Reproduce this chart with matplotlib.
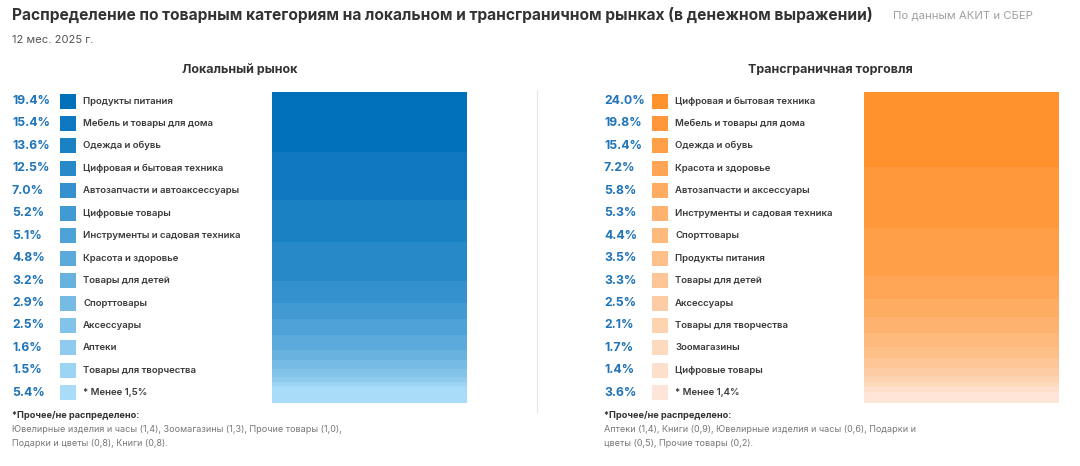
import numpy as np
import matplotlib
matplotlib.use("Agg")
import matplotlib.pyplot as plt
from matplotlib.colors import LinearSegmentedColormap

plt.rcParams["font.family"] = ["Inter", "DejaVu Sans"]

# ── Data ──────────────────────────────────────────────────────────────────────
local_cats = ["Продукты питания", "Мебель и товары для дома", "Одежда и обувь",
              "Цифровая и бытовая техника", "Автозапчасти и автоаксессуары",
              "Цифровые товары", "Инструменты и садовая техника",
              "Красота и здоровье", "Товары для детей", "Спорттовары",
              "Аксессуары", "Аптеки", "Товары для творчества", "* Менее 1,5%"]
local_vals = [19.4, 15.4, 13.6, 12.5, 7.0, 5.2, 5.1, 4.8, 3.2, 2.9, 2.5, 1.6, 1.5, 5.4]

cross_cats = ["Цифровая и бытовая техника", "Мебель и товары для дома",
              "Одежда и обувь", "Красота и здоровье", "Автозапчасти и аксессуары",
              "Инструменты и садовая техника", "Спорттовары", "Продукты питания",
              "Товары для детей", "Аксессуары", "Товары для творчества",
              "Зоомагазины", "Цифровые товары", "* Менее 1,4%"]
cross_vals = [24.0, 19.8, 15.4, 7.2, 5.8, 5.3, 4.4, 3.5, 3.3, 2.5, 2.1, 1.7, 1.4, 3.6]

title = "Распределение по товарным категориям на локальном и трансграничном рынках (в денежном выражении)"
source = "По данным АКИТ и СБЕР"
subtitle = "12 мес. 2025 г."
panel_titles = ["Локальный рынок", "Трансграничная торговля"]
note_head = "*Прочее/не распределено:"
local_note = ["Ювелирные изделия и часы (1,4), Зоомагазины (1,3), Прочие товары (1,0),",
              "Подарки и цветы (0,8), Книги (0,8)."]
cross_note = ["Аптеки (1,4), Книги (0,9), Ювелирные изделия и часы (0,6), Подарки и",
              "цветы (0,5), Прочие товары (0,2)."]

W, H = 1080, 466
PCT_COLOR = "#1f74b9"
TEXT_COLOR = "#3a3a3a"

blue_cmap = LinearSegmentedColormap.from_list("b", ["#0070ba", "#a9dcf8"])
orange_cmap = LinearSegmentedColormap.from_list("o", ["#ff922d", "#fde6d8"])


def fx(x):
    return x / W


def fy(y):
    return 1 - y / H


fig = plt.figure(figsize=(W / 100, H / 100), dpi=100)
fig.patch.set_facecolor("white")

# Header
fig.text(fx(12), fy(15), title, fontsize=11.2, fontweight="bold", color="#333333", va="center")
fig.text(fx(893), fy(15), source, fontsize=8.2, color="#a0a0a0", va="center")
fig.text(fx(12), fy(40), subtitle, fontsize=8.1, color="#555555", va="center")

# Divider
fig.add_artist(plt.Line2D([fx(537), fx(537)], [fy(90), fy(412)], color="#e6e6e6", lw=0.8))


def draw_panel(cats, vals, cmap, x0, bar_x, title_x, ptitle, note_lines):
    n = len(vals)
    colors = [cmap(i / (n - 1)) for i in range(n)]

    fig.text(fx(title_x), fy(70), ptitle, fontsize=9, fontweight="bold",
             color="#333333", ha="center", va="center")

    # legend rows
    row0, step = 101, 22.45
    for i, (c, v) in enumerate(zip(cats, vals)):
        y = row0 + i * step
        fig.text(fx(x0), fy(y), f"{v:.1f}%", fontsize=8.8, fontweight="bold",
                 color=PCT_COLOR, va="center")
        fig.add_artist(plt.Rectangle((fx(x0 + 48), fy(y + 7.5)), 16 / W, 15 / H,
                                     color=colors[i], lw=0))
        fig.text(fx(x0 + 71), fy(y), c, fontsize=6.9, fontweight="semibold",
                 color=TEXT_COLOR, va="center")

    # stacked bar
    ax = fig.add_axes([fx(bar_x), fy(403), 195 / W, 311 / H])
    bottom = 0
    for i, v in enumerate(vals):
        ax.bar(0, v, bottom=bottom, width=1.0, color=colors[i], lw=0)
        bottom += v
    ax.set_xlim(-0.5, 0.5)
    ax.set_ylim(sum(vals), 0)
    ax.axis("off")

    # footnote
    fig.text(fx(x0), fy(416), note_head, fontsize=6.6, fontweight="bold",
             color="#333333", va="center")
    for j, line in enumerate(note_lines):
        fig.text(fx(x0), fy(430 + j * 13.3), line, fontsize=6.5, color="#777777", va="center")


draw_panel(local_cats, local_vals, blue_cmap, 12, 272, 240, panel_titles[0], local_note)
draw_panel(cross_cats, cross_vals, orange_cmap, 604, 864, 830, panel_titles[1], cross_note)

fig.savefig("out.png", dpi=100, facecolor="white")
